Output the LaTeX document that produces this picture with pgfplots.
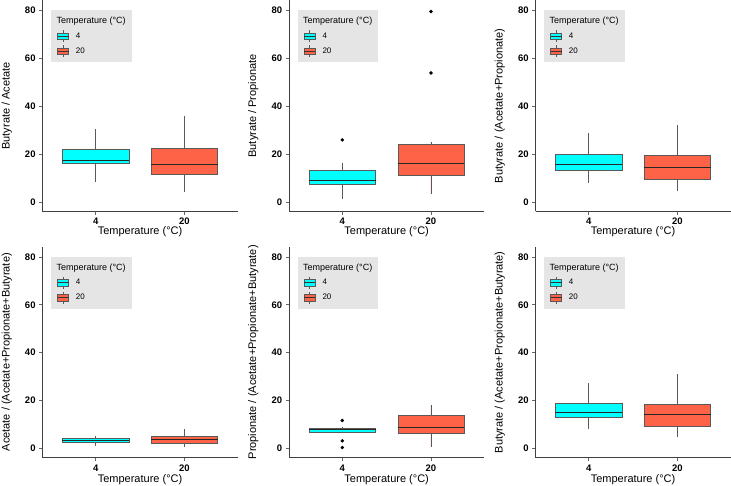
\documentclass[border=0pt]{standalone}
\usepackage{fontspec}
\setmainfont{Liberation Sans}
\setsansfont{Liberation Sans}
\usepackage{pgfplots}
\pgfplotsset{compat=1.18}
\usepgfplotslibrary{statistics}

\definecolor{cold}{HTML}{00FFFF}
\definecolor{warm}{HTML}{FF6347}
\definecolor{legbg}{HTML}{E5E5E5}

\pgfplotsset{
  panel/.style={
    scale only axis, width=195.1pt, height=211.1pt,
    xmin=0.4, xmax=2.6, ymin=-4, ymax=84.3,
    xtick={1,2}, xticklabels={4,20}, ytick={0,20,40,60,80},
    yticklabel={\pgfmathprintnumber{\tick}},
    axis lines=left,
    axis line style={-, draw=black!75, line width=0.8pt},
    x axis line style={-}, y axis line style={-},
    tick align=outside, major tick length=3.4pt,
    tick style={draw=black!60, line width=0.6pt},
    tick label style={font=\bfseries\fontsize{9.5}{11}\selectfont, text=black},
    /pgf/number format/assume math mode=true,
    xlabel={Temperature (°C)},
    x label style={at={(axis description cs:0.5,0)}, anchor=center,
      yshift=-20pt, font=\fontsize{11}{13}\selectfont},
    y label style={at={(axis description cs:-0.183,0.5)}, anchor=center,
      font=\fontsize{11}{13}\selectfont},
    legend cell align=left,
    legend style={at={(axis description cs:0.0436,0.954)}, anchor=north west,
      fill=legbg, draw=none, inner xsep=6pt, inner ysep=3.5pt,
      column sep=7pt, row sep=0pt,
      nodes={inner sep=0pt, minimum height=15pt},
      font=\fontsize{8}{9}\selectfont},
  },
  bp/.style={
    forget plot, draw=black!65, line width=0.45pt,
    mark=*, mark size=1.5pt, mark options={draw=black, fill=black},
    boxplot/draw direction=y,
    boxplot/box extend=0.75, boxplot/whisker extend=0,
    boxplot/every median/.style={draw=black!85, line width=0.9pt},
  },
  legkey/.style={legend image code/.code={
    \draw[fill=#1, draw=black!65, line width=0.5pt] (0pt,-3.4pt) rectangle (11pt,3.4pt);
    \draw[black!80, line width=0.7pt] (0pt,0pt) -- (11pt,0pt);
    \draw[black!65, line width=0.5pt] (5.5pt,3.4pt) -- (5.5pt,6pt) (5.5pt,-3.4pt) -- (5.5pt,-6pt);
  }},
}

\newcommand\tlegend{%
  \addlegendimage{empty legend}
  \addlegendentry{\hspace{-19.3pt}\fontsize{9}{10}\selectfont Temperature (°C)}
  \addlegendimage{legkey=cold}
  \addlegendentry{4}
  \addlegendimage{legkey=warm}
  \addlegendentry{20}
}

\begin{document}
\begin{tikzpicture}
\useasboundingbox (0,0) rectangle (731pt,486pt);

% top row
\begin{axis}[panel, at={(42.5pt,274.6pt)}, anchor=south west,
  ylabel={Butyrate / Acetate}]
\tlegend
\addplot[bp, fill=cold, boxplot prepared={draw position=1, lower whisker=8.3,
  lower quartile=16.0, median=17.4, upper quartile=21.8, upper whisker=30.3}] coordinates {};
\addplot[bp, fill=warm, boxplot prepared={draw position=2, lower whisker=4.3,
  lower quartile=11.4, median=15.7, upper quartile=22.3, upper whisker=35.8}] coordinates {};
\end{axis}

\begin{axis}[panel, at={(289.1pt,274.6pt)}, anchor=south west,
  ylabel={Butyrate / Propionate}]
\tlegend
\addplot[bp, fill=cold, boxplot prepared={draw position=1, lower whisker=1.0,
  lower quartile=7.3, median=8.9, upper quartile=13.1, upper whisker=16.4}]
  coordinates {(1,25.9)};
\addplot[bp, fill=warm, boxplot prepared={draw position=2, lower whisker=3.1,
  lower quartile=11.1, median=16.0, upper quartile=24.0, upper whisker=25.2}]
  coordinates {(2,53.9) (2,79.6)};
\end{axis}

\begin{axis}[panel, at={(535.5pt,274.6pt)}, anchor=south west,
  ylabel={Butyrate / (Acetate+Propionate)}]
\tlegend
\addplot[bp, fill=cold, boxplot prepared={draw position=1, lower whisker=7.8,
  lower quartile=13.3, median=15.6, upper quartile=19.8, upper whisker=28.6}] coordinates {};
\addplot[bp, fill=warm, boxplot prepared={draw position=2, lower whisker=4.6,
  lower quartile=9.5, median=14.5, upper quartile=19.4, upper whisker=32.2}] coordinates {};
\end{axis}

% bottom row
\begin{axis}[panel, at={(42.5pt,28.2pt)}, anchor=south west,
  x label style={yshift=-2pt},
  ylabel={Acetate / (Acetate+Propionate+Butyrate)}]
\tlegend
\addplot[bp, fill=cold, boxplot prepared={draw position=1, lower whisker=1.1,
  lower quartile=2.4, median=3.3, upper quartile=4.3, upper whisker=5.1}] coordinates {};
\addplot[bp, fill=warm, boxplot prepared={draw position=2, lower whisker=0.4,
  lower quartile=2.1, median=3.8, upper quartile=5.1, upper whisker=7.9}] coordinates {};
\end{axis}

\begin{axis}[panel, at={(289.1pt,28.2pt)}, anchor=south west,
  x label style={yshift=-2pt},
  ylabel={Propionate / (Acetate+Propionate+Butyrate)}]
\tlegend
\addplot[bp, fill=cold, boxplot prepared={draw position=1, lower whisker=6.5,
  lower quartile=6.7, median=7.7, upper quartile=8.4, upper whisker=8.7}]
  coordinates {(1,0.3) (1,3.1) (1,11.6)};
\addplot[bp, fill=warm, boxplot prepared={draw position=2, lower whisker=0.7,
  lower quartile=6.3, median=8.7, upper quartile=14.0, upper whisker=18.2}] coordinates {};
\end{axis}

\begin{axis}[panel, at={(535.5pt,28.2pt)}, anchor=south west,
  x label style={yshift=-2pt},
  ylabel={Butyrate / (Acetate+Propionate+Butyrate)}]
\tlegend
\addplot[bp, fill=cold, boxplot prepared={draw position=1, lower whisker=7.9,
  lower quartile=12.9, median=15.0, upper quartile=19.0, upper whisker=27.3}] coordinates {};
\addplot[bp, fill=warm, boxplot prepared={draw position=2, lower whisker=4.6,
  lower quartile=9.0, median=14.0, upper quartile=18.6, upper whisker=31.2}] coordinates {};
\end{axis}
\end{tikzpicture}
\end{document}
